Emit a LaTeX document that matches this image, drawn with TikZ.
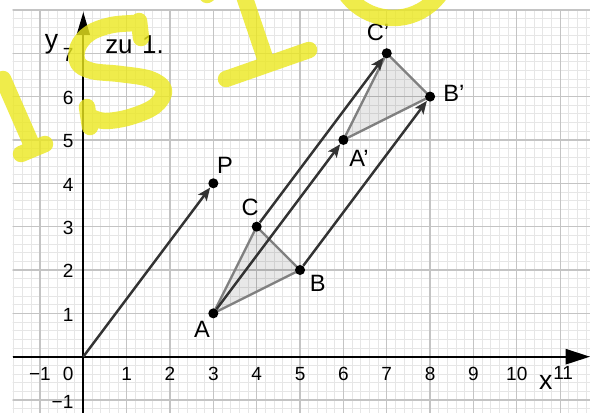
\documentclass[tikz,border=0pt]{standalone}
\usepackage{fontspec}
\setmainfont{Liberation Sans}
\usetikzlibrary{arrows.meta}
\definecolor{wmyellow}{RGB}{235,232,30}
\definecolor{gridmajor}{RGB}{196,196,196}
\definecolor{gridminor}{RGB}{230,230,230}
\definecolor{vecgray}{RGB}{51,51,51}
\definecolor{trigray}{RGB}{128,128,128}
\begin{document}
\begin{tikzpicture}[
  ticklab/.style={font=\fontsize{12.5}{14}\selectfont, inner sep=0pt},
  ptlab/.style={font=\fontsize{15.5}{18}\selectfont, inner sep=0pt},
  axlab/.style={font=\fontsize{17.5}{20}\selectfont, inner sep=0pt},
  notelab/.style={font=\fontsize{17}{20}\selectfont, inner sep=0pt},
  vec/.style={draw=vecgray, line width=1.6pt, -{Stealth[length=8.5pt,width=7pt,inset=2pt]}},
  triedge/.style={draw=trigray, line width=1.5pt, fill=black, fill opacity=0.09, line join=round},
  dot/.style={circle, fill=black, inner sep=0pt, minimum size=6.6pt},
  axisline/.style={line width=1.3pt, black},
  wm/.style={draw=wmyellow, draw opacity=0.8, line width=10.8pt, line cap=round, line join=round},
]
\useasboundingbox (-1.9216,-1.2988) rectangle (11.6886,8.2284);
\fill[white] (-1.9216,-1.2988) rectangle (11.6886,8.2284);
% grid
\begin{scope}
  \clip (-1.63,-1.2988) rectangle (11.6886,8.01);
  \draw[gridminor, line width=0.6pt, step=0.2] (-2,-1.4) grid (11.8,8.2);
  \draw[gridmajor, line width=0.8pt, step=1] (-2,-1.4) grid (11.8,8.2);
\end{scope}
% axes
\coordinate (xstart) at (-1.63,0);
\coordinate (xend) at (11.6886,0);
\coordinate (ystart) at (0,-1.2988);
\coordinate (yend) at (0,7.95);
\draw[axisline, -{Triangle[length=16pt,width=10pt]}] (xstart) -- (xend);
\draw[axisline, -{Triangle[length=15pt,width=8.5pt]}] (ystart) -- (yend);
% tick labels
\node[ticklab] (xm1) at (-1,-0.4) {−1};
\node[ticklab] (x0) at (-0.35,-0.4) {0};
\foreach \i in {1,...,10} { \node[ticklab] (x\i) at (\i,-0.4) {\i}; }
\node[ticklab] (x11) at (11.07,-0.38) {11};
\foreach \j in {1,...,7} { \node[ticklab] (y\j) at (-0.35,\j-0.03) {\j}; }
\node[ticklab] (ym1) at (-0.48,-1.04) {−1};
\node[axlab, anchor=base] (ylab) at (-0.73,7.12) {y};
\node[axlab] (xlab) at (10.67,-0.6) {x};
\node[notelab, anchor=base west] (note) at (0.50,7.0) {zu\hspace{0.37em}1.};
% points
\coordinate (O) at (0,0);
\coordinate (P) at (3,4);
\coordinate (A) at (3,1);
\coordinate (B) at (5,2);
\coordinate (C) at (4,3);
\coordinate (Ap) at (6,5);
\coordinate (Bp) at (8,6);
\coordinate (Cp) at (7,7);
% triangles
\filldraw[triedge] (A) -- (B) -- (C) -- cycle;
\filldraw[triedge] (Ap) -- (Bp) -- (Cp) -- cycle;
% dots
\node[dot] (Pd) at (P) {};
\node[dot] (Ad) at (A) {};
\node[dot] (Bd) at (B) {};
\node[dot] (Cd) at (C) {};
\node[dot] (Apd) at (Ap) {};
\node[dot] (Bpd) at (Bp) {};
\node[dot] (Cpd) at (Cp) {};
% vectors
\draw[vec] (O) -- (Pd);
\draw[vec] (Ad) -- (Apd);
\draw[vec] (Bd) -- (Bpd);
\draw[vec] (Cd) -- (Cpd);
% labels
\node[ptlab] (Pl) at (3.27,4.42) {P};
\node[ptlab] (Cl) at (3.85,3.45) {C};
\node[ptlab] (Bl) at (5.41,1.68) {B};
\node[ptlab] (Al) at (2.74,0.62) {A};
\node[ptlab] (Apl) at (6.36,4.58) {A'};
\node[ptlab] (Bpl) at (8.55,6.08) {B'};
\node[ptlab] (Cpl) at (6.80,7.47) {C'};
% watermark strokes (pixel coordinates)
\begin{scope}[shift={(-1.9216,8.2284)}, x=0.023068cm, y=-0.023068cm]
  \draw[wm] (3,79) -- (31,143) (21,154) -- (45,144);
  \draw[wm] (141,38) -- (139,21)
    plot[smooth, tension=0.6] coordinates {(138,23) (112,25) (90,33) (78,47) (78,63) (92,71) (120,74) (150,79) (164,90) (155,106) (130,117) (105,121) (91,117)}
    (87,107) -- (90,127);
  \draw[wm] (207,-5) -- (236,-28) -- (264,55) (226,79) -- (309,50);
  \draw[wm] (393,-40) circle [radius=58];
\end{scope}
\end{tikzpicture}
\end{document}
